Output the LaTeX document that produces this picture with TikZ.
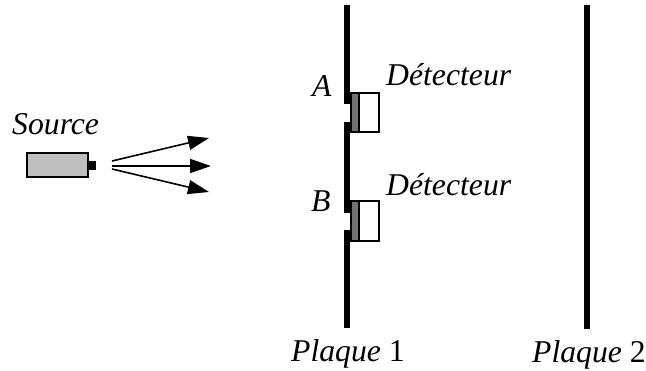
\documentclass[tikz,border=0pt]{standalone}
\usepackage{fontspec}
\setmainfont{Liberation Serif}
\usetikzlibrary{arrows.meta}
\tikzset{
  x=1pt,y=-1pt,
  lbl/.style={inner sep=0pt,font=\fontsize{31.7}{32}\selectfont\itshape,anchor=base west},
  plate/.style={line width=6pt,line cap=butt},
  ray/.style={line width=1.6pt,-{Triangle[length=21pt,width=14pt]}},
  det/.style={draw=black,line width=1.3pt,fill=white},
  sensor/.style={draw=black,line width=1.3pt,fill=gray!90!black},
}
\begin{document}
\begin{tikzpicture}
\useasboundingbox (0,0) rectangle (646,371);
% Plate 1
\coordinate (p1a) at (347,5);
\coordinate (p1b) at (347,104);
\coordinate (p1c) at (347,122);
\coordinate (p1d) at (347,213);
\coordinate (p1e) at (347,230);
\coordinate (p1f) at (347,328);
\draw[plate] (p1a) -- (p1b);
\draw[plate] (p1c) -- (p1d);
\draw[plate] (p1e) -- (p1f);
% Plate 2
\coordinate (p2a) at (587,5);
\coordinate (p2b) at (587,329);
\draw[plate] (p2a) -- (p2b);
% Detectors
\draw[sensor] (351,93) rectangle (359,132);
\draw[det] (359,93) rectangle (379,132);
\draw[sensor] (351,201) rectangle (359,241);
\draw[det] (359,201) rectangle (379,241);
% Source
\draw[draw=black,line width=1.3pt,fill=gray!50] (27,153) rectangle (88,177);
\fill[black] (88,161) rectangle (96,170);
% Rays
\coordinate (r1) at (112,161);
\coordinate (r2) at (112,166);
\coordinate (r3) at (112,169);
\coordinate (t1) at (209,138);
\coordinate (t2) at (211,166);
\coordinate (t3) at (209,192);
\draw[ray] (r1) -- (t1);
\draw[ray] (r2) -- (t2);
\draw[ray] (r3) -- (t3);
% Labels
\node[lbl] (src) at (12,135) {Source};
\node[lbl] (da) at (386,86) {Détecteur};
\node[lbl] (db) at (386,196) {Détecteur};
\node[lbl] (la) at (312,97) {A};
\node[lbl] (lb) at (311,212) {B};
\node[lbl] (pa) at (291,362) {Plaque \upshape 1};
\node[lbl] (pb) at (532,363) {Plaque \upshape 2};
\end{tikzpicture}
\end{document}
